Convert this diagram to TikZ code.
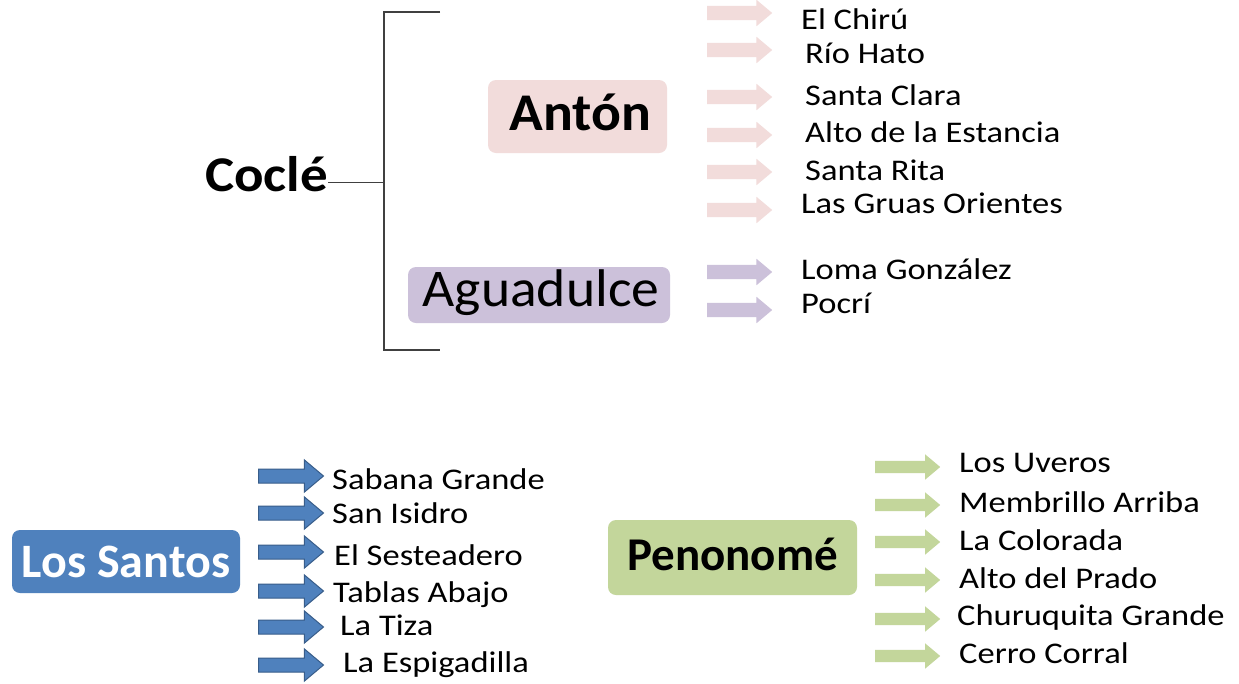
\documentclass[tikz,border=0pt]{standalone}
\usepackage{fontspec}
\setmainfont{Carlito}
\newfontfamily\labfont[FakeStretch=1.15]{Carlito}
\newfontfamily\headfont[FakeStretch=1.05]{Carlito}
\newfontfamily\cocfont[FakeStretch=1.1]{Carlito}
\usetikzlibrary{shapes.arrows}
\definecolor{pinkA}{HTML}{F2DCDB}
\definecolor{lilacA}{HTML}{CCC1DA}
\definecolor{blueA}{HTML}{4F81BD}
\definecolor{blueD}{HTML}{385D8A}
\definecolor{greenA}{HTML}{C3D69B}
\definecolor{lineC}{HTML}{404040}
\begin{document}
\begin{tikzpicture}[x=1pt,y=-1pt,
  lab/.style={anchor=base west, inner sep=0pt, font=\labfont\fontsize{30}{36}\selectfont, text=black},
  blk/.style={single arrow, anchor=tail, inner xsep=0pt, minimum width=0pt, minimum height=65pt, single arrow tip angle=80, draw=none},
  pinkarr/.style={blk, fill=pinkA, inner ysep=7pt, single arrow head extend=6pt},
  lilacarr/.style={blk, fill=lilacA, inner ysep=7pt, single arrow head extend=6pt},
  bluearr/.style={blk, fill=blueA, draw=blueD, line width=1pt, inner ysep=6.5pt, single arrow head extend=9pt},
  greenarr/.style={blk, fill=greenA, inner ysep=6pt, single arrow head extend=6.5pt},
  box/.style={rounded corners=8pt, inner sep=0pt, draw=none},
  conn/.style={draw=lineC, line width=1.3pt}
]
\path[fill=white] (0,0) rectangle (1239,683);
\useasboundingbox (0,0) rectangle (1239,683);

% Coclé and bracket
\node[anchor=base west, inner sep=0pt, font=\cocfont\bfseries\fontsize{50}{56}\selectfont, text height=30pt, text depth=12.5pt] (cocle) at (205,191) {Coclé};
\coordinate (bt) at (384,12);
\coordinate (bb) at (384,350);
\coordinate (btE) at (440,12);
\coordinate (bbE) at (440,350);
\draw[conn] (btE) -- (bt) -- (bb) -- (bbE);
\draw[conn] (cocle.east) -- (cocle.east -| bt);

% Boxes
\node[box, fill=pinkA, minimum width=179pt, minimum height=73pt, font=\headfont\bfseries\fontsize{53}{60}\selectfont, text height=40pt, text depth=13pt] (anton) at (577.5,116.5) {\hspace*{6pt}Antón};
\node[box, fill=lilacA, minimum width=262pt, minimum height=56pt, font=\headfont\fontsize{53}{60}\selectfont, text height=37pt, text depth=15pt] (agua) at (539,295) {\hspace*{4pt}Aguadulce};
\node[box, fill=blueA, minimum width=228pt, minimum height=63pt, font=\bfseries\fontsize{48}{54}\selectfont, text=white, text height=38pt, text depth=7pt] (santos) at (126,561.5) {Los Santos};
\node[box, fill=greenA, minimum width=249pt, minimum height=75pt, font=\bfseries\fontsize{47}{54}\selectfont, text height=35pt, text depth=10pt] (peno) at (732.5,557.5) {Penonomé};

% Antón arrows and labels
\node[pinkarr] (pa1) at (707,13) {};
\node[pinkarr] (pa2) at (707,50) {};
\node[pinkarr] (pa3) at (707,97) {};
\node[pinkarr] (pa4) at (707,135) {};
\node[pinkarr] (pa5) at (707,172) {};
\node[pinkarr] (pa6) at (707,210) {};
\node[lab] (pl1) at (801,29) {El Chirú};
\node[lab] (pl2) at (805,63) {Río Hato};
\node[lab] (pl3) at (805,105) {Santa Clara};
\node[lab] (pl4) at (805,142) {Alto de la Estancia};
\node[lab] (pl5) at (805,180) {Santa Rita};
\node[lab] (pl6) at (801,213) {Las Gruas Orientes};

% Aguadulce arrows and labels
\node[lilacarr] (la1) at (707,272) {};
\node[lilacarr] (la2) at (707,310) {};
\node[lab] (ll1) at (801,279) {Loma González};
\node[lab] (ll2) at (801,313) {Pocrí};

% Los Santos arrows and labels
\node[bluearr] (ba1) at (258,476) {};
\node[bluearr] (ba2) at (258,513) {};
\node[bluearr] (ba3) at (258,552) {};
\node[bluearr] (ba4) at (258,591) {};
\node[bluearr] (ba5) at (258,627) {};
\node[bluearr] (ba6) at (258,665) {};
\node[lab] (bl1) at (332,489) {Sabana Grande};
\node[lab] (bl2) at (332,523) {San Isidro};
\node[lab] (bl3) at (334,565) {El Sesteadero};
\node[lab] (bl4) at (333,602) {Tablas Abajo};
\node[lab] (bl5) at (340,635) {La Tiza};
\node[lab] (bl6) at (343,672) {La Espigadilla};

% Penonomé arrows and labels
\node[greenarr] (ga1) at (875,467) {};
\node[greenarr] (ga2) at (875,505) {};
\node[greenarr] (ga3) at (875,542) {};
\node[greenarr] (ga4) at (875,580) {};
\node[greenarr] (ga5) at (875,619) {};
\node[greenarr] (ga6) at (875,656) {};
\node[lab] (gl1) at (959,472) {Los Uveros};
\node[lab] (gl2) at (959,512) {Membrillo Arriba};
\node[lab] (gl3) at (959,550) {La Colorada};
\node[lab] (gl4) at (959,588) {Alto del Prado};
\node[lab] (gl5) at (957,625) {Churuquita Grande};
\node[lab] (gl6) at (959,663) {Cerro Corral};
\end{tikzpicture}
\end{document}
